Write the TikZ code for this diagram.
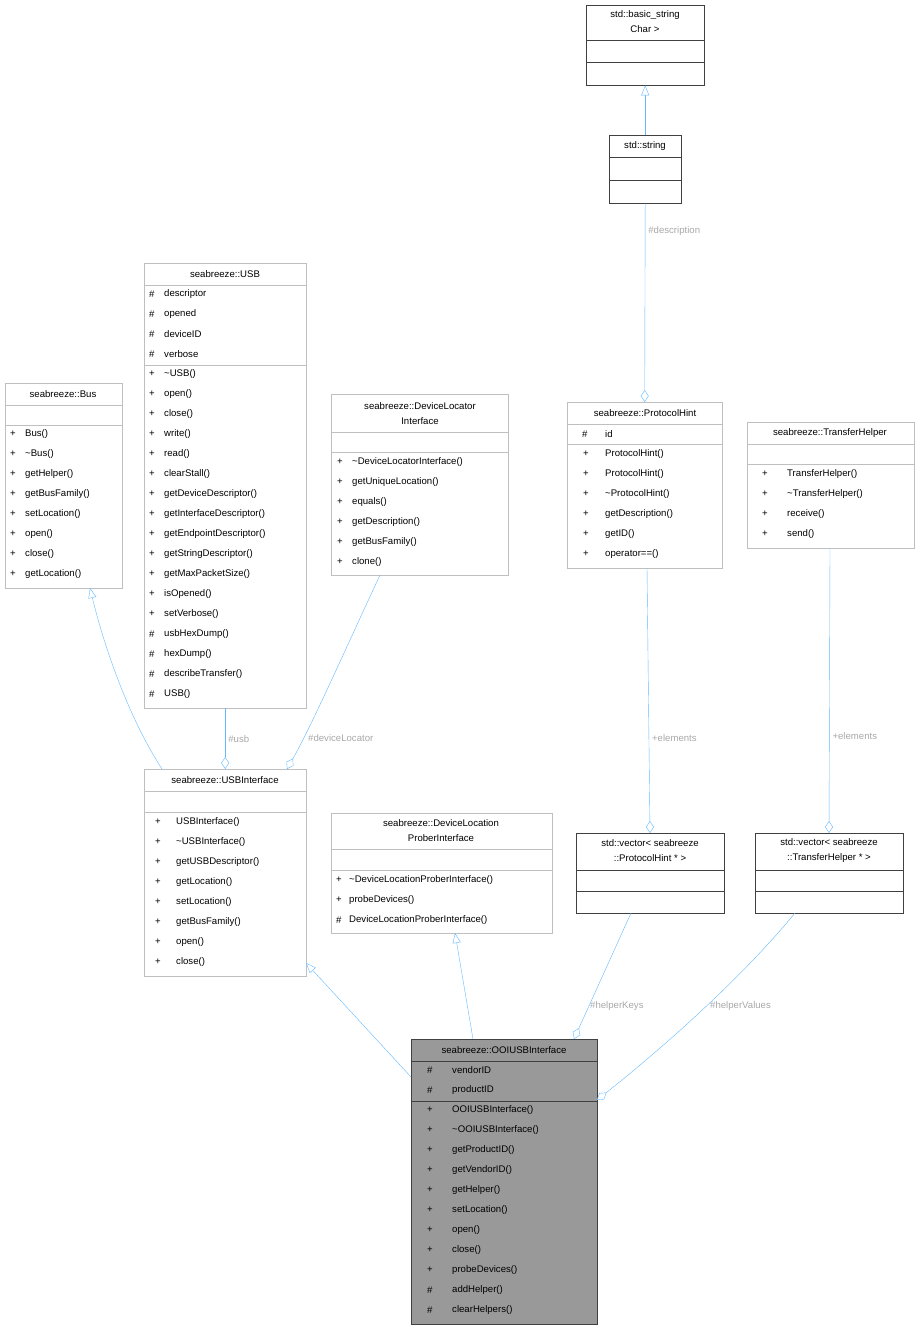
\documentclass[tikz,border=0pt]{standalone}
\usepackage{fontspec}
\setmainfont{Liberation Sans}
\usetikzlibrary{arrows.meta}
\definecolor{edgeblue}{HTML}{63B8FF}
\definecolor{lightframe}{HTML}{BFBFBF}
\definecolor{darkframe}{HTML}{404040}
\definecolor{labelgray}{HTML}{A8A8A8}
\tikzset{
  classbox/.style={draw=lightframe, fill=white, inner sep=0pt, anchor=north west},
  darkbox/.style={classbox, draw=darkframe},
  ctitle/.style={font=\fontsize{9.6}{15}\selectfont, align=center, inner sep=0pt},
  member/.style={font=\fontsize{9.6}{12}\selectfont, anchor=west, inner sep=0pt},
  elabel/.style={font=\fontsize{9.6}{12}\selectfont, text=labelgray, inner sep=0pt, anchor=west},
  inherit/.style={draw=edgeblue, -{Triangle[open, length=10pt, width=8pt, fill=white]}},
  aggr/.style={draw=edgeblue, -{Diamond[open, length=12pt, width=8pt, fill=white]}}
}
% #1 sym x, #2 name x, #3 first line y, #4 list
\newcommand\memberlist[4]{%
  \foreach \s/\t [count=\i from 0] in {#4} {
    \node[member] at (#1,{#3+20*\i}) {\s};
    \node[member] at (#2,{#3+20*\i}) {\t};
  }}
\newcommand\tld{\textasciitilde}
\begin{document}
\begin{tikzpicture}[x=1pt,y=-1pt]
  \useasboundingbox (0,0) rectangle (920,1329);

  % std::basic_string
  \node[darkbox, minimum width=118, minimum height=80] (bstr) at (586,5) {};
  \node[ctitle] at (645,22) {std::basic\_string\\Char >};
  \draw[darkframe] (586,40) -- (704,40) (586,62) -- (704,62);

  % std::string
  \node[darkbox, minimum width=72, minimum height=68] (str) at (609,135) {};
  \node[ctitle] at (645,146) {std::string};
  \draw[darkframe] (609,157) -- (681,157) (609,180) -- (681,180);

  % seabreeze::USB
  \node[classbox, minimum width=162, minimum height=445] (usb) at (144,263) {};
  \node[ctitle] at (225,274) {seabreeze::USB};
  \draw[lightframe] (144,285) -- (306,285) (144,365) -- (306,365);
  \memberlist{149}{164}{294}{\#/descriptor, \#/opened, \#/deviceID, \#/verbose}
  \memberlist{149}{164}{374}{+/\tld USB(), +/open(), +/close(), +/write(), +/read(),
    +/clearStall(), +/getDeviceDescriptor(), +/getInterfaceDescriptor(),
    +/getEndpointDescriptor(), +/getStringDescriptor(), +/getMaxPacketSize(),
    +/isOpened(), +/setVerbose(), \#/usbHexDump(), \#/hexDump(),
    \#/describeTransfer(), \#/USB()}

  % seabreeze::Bus
  \node[classbox, minimum width=117, minimum height=205] (bus) at (5,383) {};
  \node[ctitle] at (63,394) {seabreeze::Bus};
  \draw[lightframe] (5,405) -- (122,405) (5,425) -- (122,425);
  \memberlist{10}{25}{434}{+/Bus(), +/\tld Bus(), +/getHelper(), +/getBusFamily(),
    +/setLocation(), +/open(), +/close(), +/getLocation()}

  % seabreeze::DeviceLocatorInterface
  \node[classbox, minimum width=177, minimum height=181] (dli) at (331,394) {};
  \node[ctitle] at (420,414) {seabreeze::DeviceLocator\\Interface};
  \draw[lightframe] (331,432) -- (508,432) (331,452) -- (508,452);
  \memberlist{337}{352}{462}{+/\tld DeviceLocatorInterface(), +/getUniqueLocation(),
    +/equals(), +/getDescription(), +/getBusFamily(), +/clone()}

  % seabreeze::ProtocolHint
  \node[classbox, minimum width=155, minimum height=166] (hint) at (567,402) {};
  \node[ctitle] at (645,413) {seabreeze::ProtocolHint};
  \draw[lightframe] (567,424) -- (722,424) (567,444) -- (722,444);
  \memberlist{582}{605}{434}{\#/id}
  \memberlist{583}{605}{454}{+/ProtocolHint(), +/ProtocolHint(), +/\tld ProtocolHint(),
    +/getDescription(), +/getID(), +/operator==()}

  % seabreeze::TransferHelper
  \node[classbox, minimum width=167, minimum height=126] (th) at (747,422) {};
  \node[ctitle] at (830,433) {seabreeze::TransferHelper};
  \draw[lightframe] (747,444) -- (914,444) (747,464) -- (914,464);
  \memberlist{762}{787}{474}{+/TransferHelper(), +/\tld TransferHelper(),
    +/receive(), +/send()}

  % seabreeze::USBInterface
  \node[classbox, minimum width=162, minimum height=207] (usbif) at (144,769) {};
  \node[ctitle] at (225,780) {seabreeze::USBInterface};
  \draw[lightframe] (144,791) -- (306,791) (144,812) -- (306,812);
  \memberlist{155}{176}{822}{+/USBInterface(), +/\tld USBInterface(),
    +/getUSBDescriptor(), +/getLocation(), +/setLocation(), +/getBusFamily(),
    +/open(), +/close()}

  % seabreeze::DeviceLocationProberInterface
  \node[classbox, minimum width=221, minimum height=120] (dlpi) at (331,813) {};
  \node[ctitle] at (441,831) {seabreeze::DeviceLocation\\ProberInterface};
  \draw[lightframe] (331,849) -- (552,849) (331,870) -- (552,870);
  \memberlist{336}{349}{880}{+/\tld DeviceLocationProberInterface(), +/probeDevices(),
    \#/DeviceLocationProberInterface()}

  % std::vector of hints / helpers
  \node[darkbox, minimum width=148, minimum height=80] (vhint) at (576,833) {};
  \node[ctitle] at (650,851) {std::vector< seabreeze\\::ProtocolHint * >};
  \draw[darkframe] (576,870) -- (724,870) (576,891) -- (724,891);
  \node[darkbox, minimum width=148, minimum height=80] (vth) at (755,833) {};
  \node[ctitle] at (829,851) {std::vector< seabreeze\\::TransferHelper * >};
  \draw[darkframe] (755,870) -- (903,870) (755,891) -- (903,891);

  % seabreeze::OOIUSBInterface
  \node[darkbox, fill=black!40, minimum width=186, minimum height=285] (ooi) at (411,1039) {};
  \node[ctitle] at (504,1050) {seabreeze::OOIUSBInterface};
  \draw[darkframe] (411,1061) -- (597,1061) (411,1101) -- (597,1101);
  \memberlist{427}{452}{1070}{\#/vendorID, \#/productID}
  \memberlist{427}{452}{1110}{+/OOIUSBInterface(), +/\tld OOIUSBInterface(),
    +/getProductID(), +/getVendorID(), +/getHelper(), +/setLocation(), +/open(),
    +/close(), +/probeDevices(), \#/addHelper(), \#/clearHelpers()}

  % connectors
  \draw[inherit] (str.north) -- (bstr.south);
  \draw[aggr] (str.south) -- node[elabel, pos=0.14, xshift=3pt] {\#description} (hint.north);
  \draw[aggr] (usb.south) -- node[elabel, xshift=3pt] {\#usb} (usbif.north);
  \draw[aggr] (380,575) .. controls (345,650) and (312,725) .. (287,769);
  \node[elabel] at (308,738) {\#deviceLocator};
  \draw[inherit] (162,769) .. controls (130,720) and (105,650) .. (90,588);
  \draw[aggr] (647,568) -- node[elabel, pos=0.64, xshift=3pt] {+elements} (650,833);
  \draw[aggr] (830,548) -- node[elabel, pos=0.66, xshift=3pt] {+elements} (829,833);
  \draw[inherit] (411,1077) -- (306,963);
  \draw[inherit] (473,1039) -- (455,933);
  \draw[aggr] (631,913) -- (574,1039);
  \node[elabel] at (590,1006) {\#helperKeys};
  \draw[aggr] (795,913) .. controls (740,980) and (660,1050) .. (597,1100);
  \node[elabel] at (710,1006) {\#helperValues};
\end{tikzpicture}
\end{document}
